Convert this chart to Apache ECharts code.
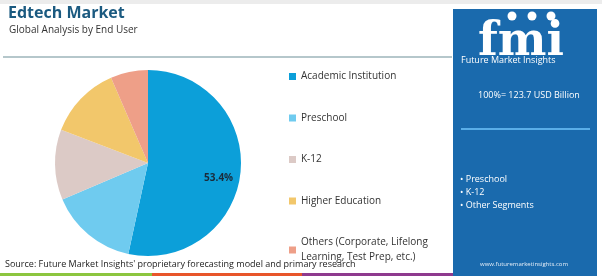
<!DOCTYPE html>
<html>
<head>
<meta charset="utf-8">
<script src="https://cdn.jsdelivr.net/npm/echarts@6/dist/echarts.min.js"></script>
<style>html,body{margin:0;padding:0;background:#fff}#c{width:602px;height:276px}</style>
</head>
<body>
<div id="c"></div>
<script>
const categories = ['Academic Institution', 'Preschool', 'K-12', 'Higher Education', 'Others (Corporate, Lifelong\nLearning, Test Prep, etc.)'];
const shares = [53.4, 15.2, 12.2, 12.7, 6.5];
const colors = ['#0c9fd9', '#6fcbef', '#dccac6', '#f2c76b', '#ee9f88'];
const panelBullets = ['• Preschool', '• K-12', '• Other Segments'];
const totalText = '100%= 123.7 USD Billion';

const chart = echarts.init(document.getElementById('c'), null, {renderer: 'canvas'});
const pieData = categories.map((n, i) => ({name: n, value: shares[i], itemStyle: {color: colors[i]}}));
const ghostData = categories.map((n, i) => ({name: n, value: shares[i], label: {show: i === 0}}));
const font = 'Open Sans';

const graphics = [
  {type: 'rect', shape: {x: 0, y: 0, width: 602, height: 4}, style: {fill: '#ececec'}},
  {type: 'line', shape: {x1: 3, y1: 57, x2: 452, y2: 57}, style: {stroke: '#9db5ba', lineWidth: 1.5}},
  {type: 'rect', shape: {x: 0, y: 273, width: 152, height: 3}, style: {fill: '#8cc63f'}},
  {type: 'rect', shape: {x: 152, y: 273, width: 150, height: 3}, style: {fill: '#e8562a'}},
  {type: 'rect', shape: {x: 302, y: 273, width: 151, height: 3}, style: {fill: '#8e3a8e'}},
  {type: 'rect', shape: {x: 453, y: 9, width: 144, height: 267}, style: {fill: '#1a6aad'}},
  {type: 'line', shape: {x1: 461, y1: 129, x2: 590, y2: 129}, style: {stroke: '#5aaee8', lineWidth: 2}},
  {type: 'circle', shape: {cx: 512, cy: 16, r: 4.5}, style: {fill: '#fff'}},
  {type: 'circle', shape: {cx: 532, cy: 16, r: 4.5}, style: {fill: '#fff'}},
  {type: 'circle', shape: {cx: 551, cy: 16, r: 4.5}, style: {fill: '#fff'}},
  {type: 'text', left: 478, top: 20, style: {text: 'fmi', fill: '#fff', font: 'bold 46px "DejaVu Serif"'}},
  {type: 'text', left: 461, top: 56, style: {text: 'Future Market Insights', fill: '#fff', font: '9px "Open Sans"'}},
  {type: 'text', left: 478, top: 91, style: {text: totalText, fill: '#fff', font: '9px "Open Sans"'}},
  {type: 'text', left: 480, top: 261, style: {text: 'www.futuremarketinsights.com', fill: '#e6eef7', font: '6px "Open Sans"'}},
  {type: 'text', left: 8, top: 5, style: {text: 'Edtech Market', fill: '#1b5a80', font: 'bold 16px "Open Sans"'}},
  {type: 'text', left: 9, top: 25, style: {text: 'Global Analysis by End User', fill: '#333', font: '10px "Open Sans"'}},
  {type: 'text', left: 5, top: 260, style: {text: "Source: Future Market Insights' proprietary forecasting model and primary research", fill: '#222', font: '9px "Open Sans"'}}
];
panelBullets.forEach((t, i) => {
  graphics.push({type: 'text', left: 460, top: 175 + i * 12.8, style: {text: t, fill: '#fff', font: '9px "Open Sans"'}});
});

chart.setOption({
  animation: false,
  graphic: graphics,
  legend: {
    orient: 'vertical', left: 289, top: 69, height: 260, padding: 0,
    icon: 'rect', itemWidth: 7, itemHeight: 7, itemGap: 26.5,
    textStyle: {fontFamily: font, fontSize: 10, color: '#333', lineHeight: 15},
    data: categories.map(n => ({name: n})),
    selectedMode: false
  },
  series: [
    {
      type: 'pie', center: [148, 163], radius: 93, startAngle: 90, clockwise: true,
      silent: true, label: {show: false}, labelLine: {show: false},
      data: pieData
    },
    {
      type: 'pie', center: [148, 163], radius: [0, 136], startAngle: 90, clockwise: true,
      silent: true, legendHoverLink: false, z: 3,
      itemStyle: {color: 'rgba(0,0,0,0)'},
      label: {show: false, position: 'inside', formatter: p => '\n' + p.value.toFixed(1) + '%',
        fontFamily: font, fontSize: 10, fontWeight: 'bold', color: '#1b2b3a', lineHeight: 15},
      labelLine: {show: false},
      data: ghostData
    }
  ]
});
</script>
</body>
</html>
